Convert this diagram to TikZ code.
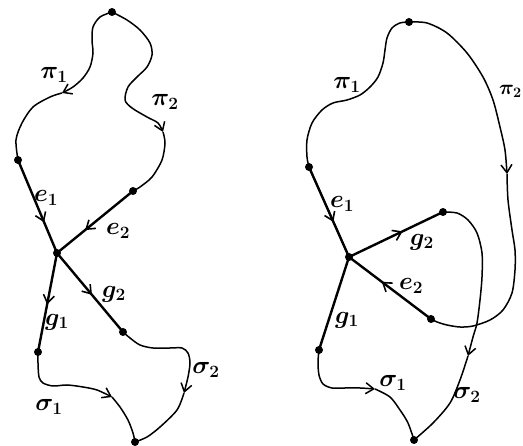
\documentclass[tikz,border=0pt]{standalone}
\usetikzlibrary{arrows.meta,decorations.markings}
\begin{document}
\begin{tikzpicture}[x=1pt,y=-1pt,
  curve/.style={line width=1.5pt},
  edge/.style={line width=2.4pt},
  tipped/.style={-{Straight Barb[length=8pt,width=11pt,line width=1.5pt]}},
  midarrow/.style={postaction={decorate},decoration={markings,
     mark=at position #1 with {\arrow{Straight Barb[length=8pt,width=11pt,line width=1.6pt]}}}},
  dot/.style={circle,fill,inner sep=0pt,minimum size=8pt},
  lab/.style={font=\fontsize{23}{27}\selectfont\boldmath, inner sep=0pt}]
\useasboundingbox (0,0) rectangle (523,446);

% ---------- left diagram ----------
\node[dot] (LT) at (112,12) {};
\node[dot] (LA) at (18,160) {};
\node[dot] (LB) at (133,191) {};
\node[dot] (LC) at (57,253) {};
\node[dot] (LD) at (38,352) {};
\node[dot] (LE) at (123,332) {};
\node[dot] (LF) at (135,442) {};
\coordinate (Lp1) at (62,93);
\coordinate (Lp2) at (163,132);
\coordinate (Ls1) at (112,397);
\coordinate (Ls2) at (184,393);

\draw[curve,tipped] plot[smooth] coordinates {(LT.center) (100,17) (93,27) (92,40) (93,53) (90,67) (83,78) (73,87) (Lp1)};
\draw[curve] plot[smooth] coordinates {(Lp1) (50,97) (33,107) (22,123) (16,140) (LA.center)};
\draw[curve,tipped] plot[smooth] coordinates {(LT.center) (127,20) (140,30) (150,43) (152,55) (147,67) (137,77) (128,87) (125,100) (132,108) (147,117) (158,123) (Lp2)};
\draw[curve] plot[smooth] coordinates {(Lp2) (165,143) (162,160) (152,177) (140,187) (LB.center)};
\draw[curve,tipped] plot[smooth] coordinates {(LD.center) (38,363) (39,377) (43,383) (53,386) (67,385) (83,387) (97,390) (Ls1)};
\draw[curve] plot[smooth] coordinates {(Ls1) (120,407) (128,420) (133,433) (LF.center)};
\draw[curve,tipped] plot[smooth] coordinates {(LE.center) (130,338) (140,345) (153,348) (170,348) (182,348) (188,353) (190,363) (188,377) (Ls2)};
\draw[curve] plot[smooth] coordinates {(Ls2) (177,410) (160,427) (147,437) (LF.center)};

\draw[edge,midarrow=0.67] (LA.center) -- (LC.center);
\draw[edge,midarrow=0.63] (LB.center) -- (LC.center);
\draw[edge,midarrow=0.52] (LC.center) -- (LD.center);
\draw[edge,midarrow=0.53] (LC.center) -- (LE.center);

\node[lab] (l1) at (54,75) {$\pi_1$};
\node[lab] (l2) at (165,102) {$\pi_2$};
\node[lab] (l3) at (46,198) {$e_1$};
\node[lab] (l4) at (118,231) {$e_2$};
\node[lab] (l5) at (114,294) {$g_2$};
\node[lab] (l6) at (57,322) {$g_1$};
\node[lab] (l7) at (206,370) {$\sigma_2$};
\node[lab] (l8) at (49,407) {$\sigma_1$};

% ---------- right diagram ----------
\node[dot] (RT) at (409,22) {};
\node[dot] (RA) at (309,167) {};
\node[dot] (RC) at (349,257) {};
\node[dot] (RB) at (431,319) {};
\node[dot] (RG) at (443,212) {};
\node[dot] (RD) at (319,350) {};
\node[dot] (RF) at (414,440) {};
\coordinate (Rp2) at (507,174);
\coordinate (Rs2) at (468,356);
\coordinate (Rs1) at (375,389);

\draw[curve] plot[smooth] coordinates {(RT.center) (400,23) (392,28) (387,38) (385,50) (383,63) (378,77) (370,87) (360,95) (347,100) (333,103) (322,110) (312,123) (307,140) (307,157) (RA.center)};
\draw[curve,tipped] plot[smooth] coordinates {(RT.center) (427,23) (447,33) (467,53) (483,77) (493,100) (500,127) (505,150) (Rp2)};
\draw[curve] plot[smooth] coordinates {(Rp2) (508,200) (512,230) (515,250) (515,270) (512,293) (503,310) (490,320) (473,326) (460,327) (447,325) (437,322) (RB.center)};
\draw[curve,tipped] plot[smooth] coordinates {(RG.center) (457,213) (468,220) (477,233) (482,253) (482,277) (480,300) (477,323) (473,337) (Rs2)};
\draw[curve] plot[smooth] coordinates {(Rs2) (460,380) (450,403) (433,423) (RF.center)};
\draw[curve,tipped] plot[smooth] coordinates {(RD.center) (318,362) (319,375) (323,384) (332,388) (345,388) (360,388) (Rs1)};
\draw[curve] plot[smooth] coordinates {(Rs1) (390,397) (400,410) (408,423) (RF.center)};

\draw[edge,midarrow=0.61] (RA.center) -- (RC.center);
\draw[edge,midarrow=0.60] (RB.center) -- (RC.center);
\draw[edge,midarrow=0.57] (RC.center) -- (RG.center);
\draw[edge] (RC.center) -- (RD.center);

\node[lab] (r1) at (347,85) {$\pi_1$};
\node[lab,anchor=east,font=\fontsize{21}{25}\selectfont\boldmath] (r2) at (522,91) {$\pi_2$};
\node[lab] (r3) at (342,204) {$e_1$};
\node[lab] (r4) at (422,242) {$g_2$};
\node[lab] (r5) at (411,286) {$e_2$};
\node[lab] (r6) at (347,320) {$g_1$};
\node[lab] (r7) at (393,383) {$\sigma_1$};
\node[lab] (r8) at (467,395) {$\sigma_2$};
\end{tikzpicture}
\end{document}
